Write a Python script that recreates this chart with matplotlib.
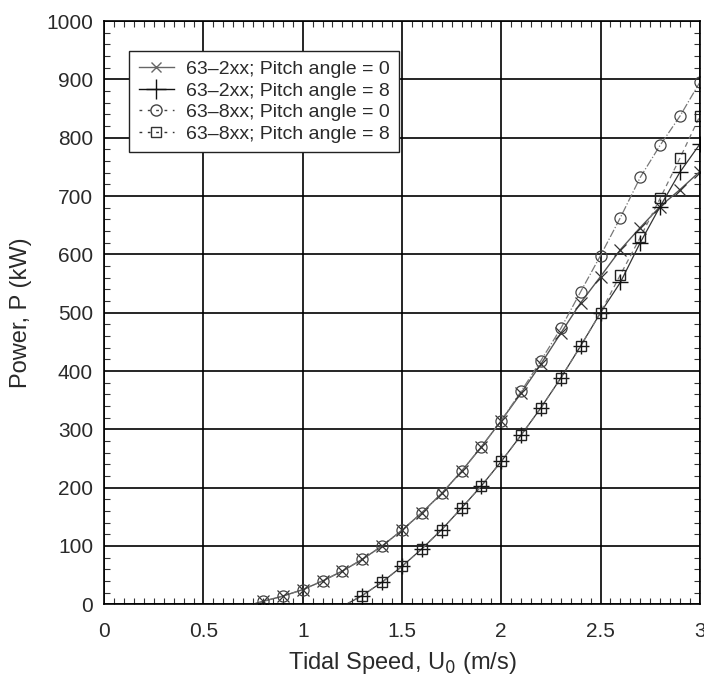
import numpy as np
import matplotlib
matplotlib.use('Agg')
from matplotlib import pyplot as plt
from matplotlib.ticker import MultipleLocator

plt.rcParams['font.family'] = ['Liberation Sans', 'DejaVu Sans']

# tidal speed (m/s) and power (kW)
u_a = [0.8, 0.9, 1.0, 1.1, 1.2, 1.3, 1.4, 1.5, 1.6, 1.7, 1.8, 1.9, 2.0,
       2.1, 2.2, 2.3, 2.4, 2.5, 2.6, 2.7, 2.8, 2.9, 3.0]
p_2xx_0 = [5, 14, 25, 40, 57, 77, 100, 127, 157, 190, 228, 270, 315,
           362, 412, 465, 517, 562, 608, 646, 682, 711, 742]
p_8xx_0 = [5, 14, 25, 40, 57, 77, 100, 127, 157, 190, 228, 270, 315,
           365, 418, 473, 536, 598, 663, 732, 787, 837, 895]

u_b = [1.3, 1.4, 1.5, 1.6, 1.7, 1.8, 1.9, 2.0, 2.1, 2.2, 2.3, 2.4, 2.5,
       2.6, 2.7, 2.8, 2.9, 3.0]
p_2xx_8 = [15, 38, 65, 95, 128, 165, 203, 245, 290, 337, 388, 443, 500,
           552, 620, 682, 741, 789]
p_8xx_8 = [15, 38, 65, 95, 128, 165, 203, 245, 290, 337, 388, 443, 500,
           565, 629, 696, 765, 837]

# cut-in speeds where the curves leave zero
cut_in_0 = 0.75
cut_in_8 = 1.22

labels = ['63\u20132xx; Pitch angle = 0', '63\u20132xx; Pitch angle = 8',
          '63\u20138xx; Pitch angle = 0', '63\u20138xx; Pitch angle = 8']

fig = plt.figure(figsize=(7.04, 6.82), dpi=100)
ax = fig.add_axes([0.148, 0.114, 0.846, 0.855])

txt = '#2a2a2a'

# curves (start at the cut-in speed)
ax.plot([cut_in_0] + u_a, [0] + p_2xx_0, linestyle='-', color='#555555', lw=1.0)
ax.plot([cut_in_8] + u_b, [0] + p_2xx_8, linestyle='-', color='#333333', lw=0.9)
ax.plot([cut_in_0] + u_a, [0] + p_8xx_0, linestyle='-.', color='#777777', lw=0.9)
ax.plot([cut_in_8] + u_b, [0] + p_8xx_8, linestyle=(0, (4, 3)), color='#777777', lw=0.9)

# markers
ax.plot(u_a, p_2xx_0, 'x', color='#333333', ms=8, mew=0.9)
ax.plot(u_b, p_2xx_8, '+', color='#111111', ms=11, mew=1.0)
ax.plot(u_a, p_8xx_0, 'o', color='#444444', mfc='none', ms=8, mew=0.9)
ax.plot(u_b, p_8xx_8, 's', color='#222222', mfc='none', ms=7, mew=1.0)

# legend proxies
h1, = ax.plot([], [], linestyle='-', color='#666666', marker='x', ms=7, lw=1.0)
h2, = ax.plot([], [], linestyle='-', color='#111111', marker='+', ms=14, lw=1.0)
h3, = ax.plot([], [], linestyle=(0, (2, 4)), color='#444444', marker='o', mfc='none', ms=8, lw=1.0)
h4, = ax.plot([], [], linestyle=(0, (2, 4)), color='#333333', marker='s', mfc='none', ms=7, lw=1.0)
leg = ax.legend([h1, h2, h3, h4], labels, loc='upper left',
                bbox_to_anchor=(0.042, 0.949), fontsize=14, frameon=True,
                fancybox=False, edgecolor='#222222', framealpha=1,
                handlelength=1.8, borderpad=0.5, labelspacing=0.2,
                handletextpad=0.6, borderaxespad=0)
leg.get_frame().set_linewidth(1.0)
for t in leg.get_texts():
    t.set_color(txt)

ax.set_xlim(0, 3)
ax.set_ylim(0, 1000)
ax.xaxis.set_minor_locator(MultipleLocator(0.05))
ax.yaxis.set_major_locator(MultipleLocator(100))
ax.yaxis.set_minor_locator(MultipleLocator(20))
ax.set_xticks([0, 0.5, 1, 1.5, 2, 2.5, 3])
ax.set_xticklabels(['0', '0.5', '1', '1.5', '2', '2.5', '3'])

ax.grid(True, which='major', color='black', lw=1.2)
ax.set_axisbelow(True)
ax.tick_params(which='both', direction='in', top=True, right=True,
               labelsize=15, labelcolor=txt, color='#333333')
ax.tick_params(axis='x', which='major', length=0, pad=13)
ax.tick_params(axis='y', which='major', length=0, pad=8)
ax.tick_params(which='minor', length=4, width=0.8)
for s in ax.spines.values():
    s.set_linewidth(1.2)

ax.set_xlabel('Tidal Speed, U$_0$ (m/s)', fontsize=17, color=txt, labelpad=6)
ax.set_ylabel('Power, P (kW)', fontsize=17, color=txt, labelpad=10)

fig.savefig('out.png', dpi=100)
